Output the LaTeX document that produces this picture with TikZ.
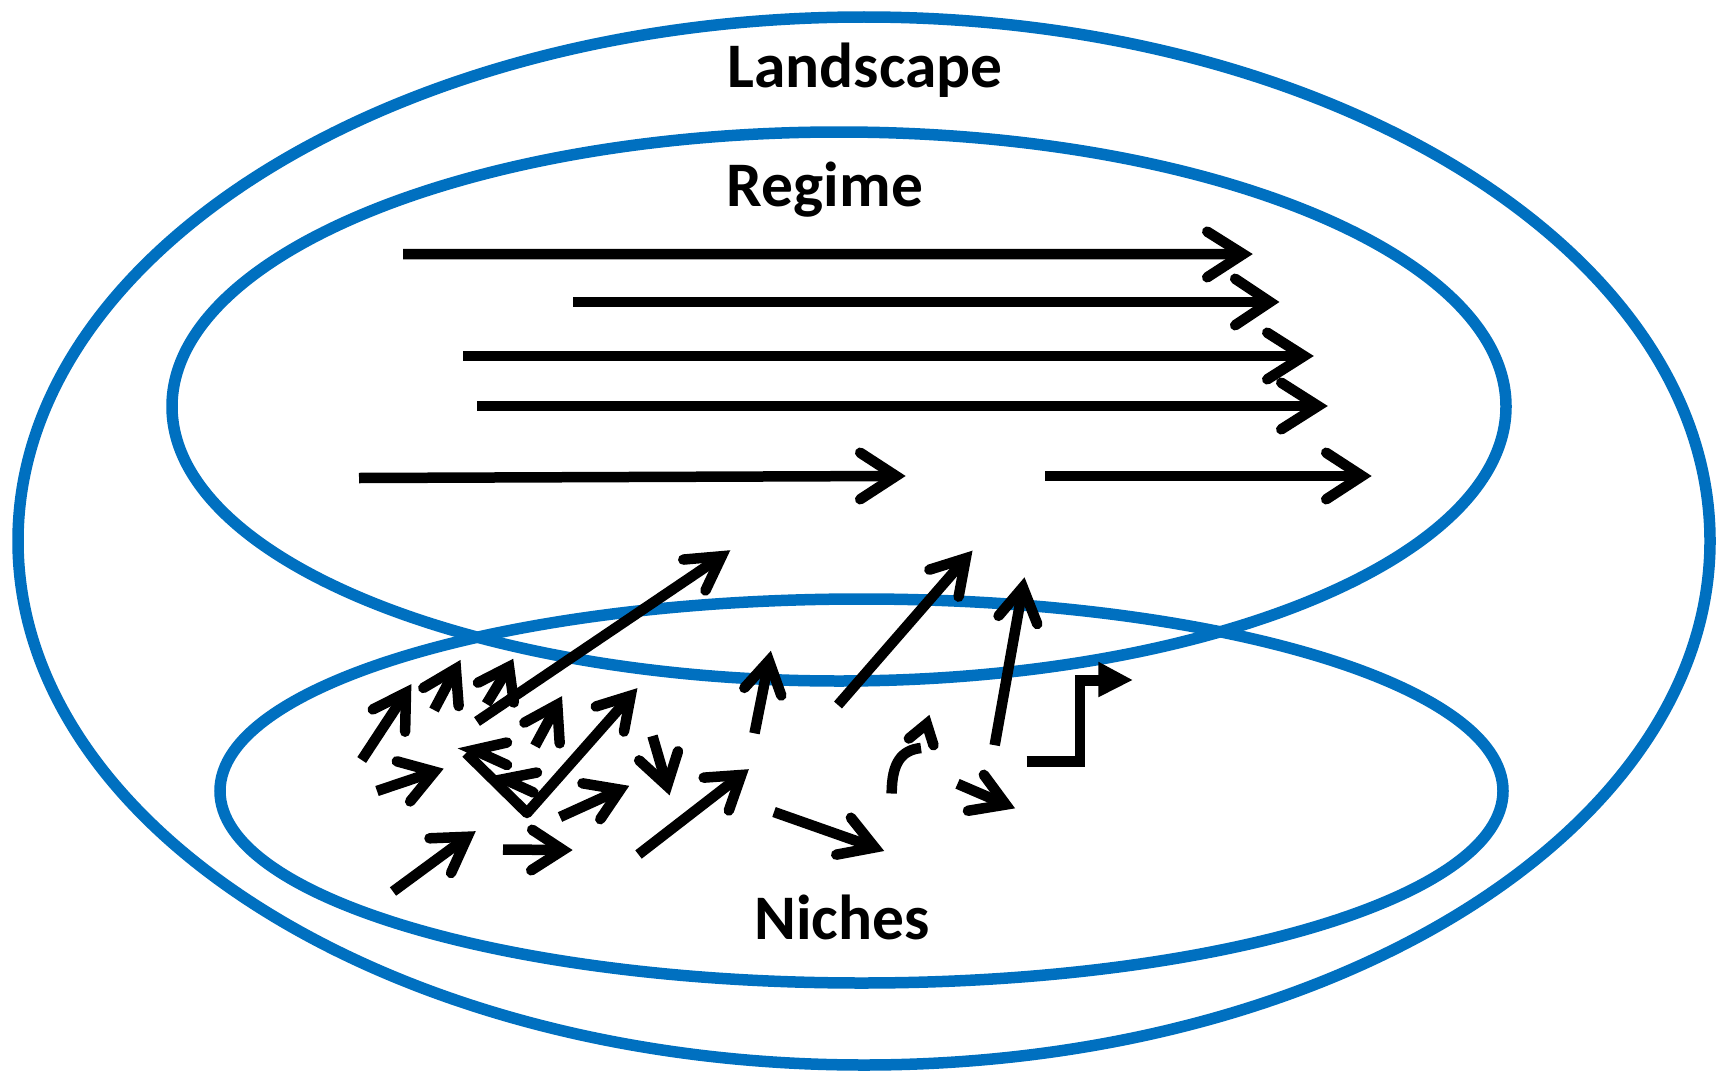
\documentclass[tikz,border=0pt]{standalone}
\usepackage{fontspec}
\setmainfont{Carlito}
\usetikzlibrary{calc}
\definecolor{mlpblue}{RGB}{0,112,192}
\tikzset{
  shaft/.style={draw=black, line width=10.5pt, line cap=butt},
  head/.style={draw=black, line width=10.5pt, line cap=round, line join=miter},
  ell/.style={draw=mlpblue, line width=11.5pt},
  lbl/.style={font=\fontsize{63.5}{72}\selectfont\bfseries, inner sep=0pt, anchor=base}
}
% head: visible tip, two visible arm ends
\newcommand\mlphead[3]{%
  \coordinate (mT) at #1;
  \coordinate (mP) at #2;
  \coordinate (mQ) at #3;
  \coordinate (mM) at ($(mP)!0.5!(mQ)$);
  \coordinate (mJ) at ($(mT)!11pt!(mM)$);
  \draw[head] ($(mP)!5pt!(mJ)$) -- (mJ) -- ($(mQ)!5pt!(mJ)$);
}
\newcommand\mlparrow[4]{%
  \coordinate (mT) at #2;
  \coordinate (mP) at #3;
  \coordinate (mQ) at #4;
  \coordinate (mM) at ($(mP)!0.5!(mQ)$);
  \coordinate (mJ) at ($(mT)!11pt!(mM)$);
  \draw[shaft] #1 -- (mJ);
  \draw[head] ($(mP)!5pt!(mJ)$) -- (mJ) -- ($(mQ)!5pt!(mJ)$);
}
\begin{document}
\begin{tikzpicture}[x=1pt,y=-1pt]
\useasboundingbox (0,0) rectangle (1721,1081);
\fill[white] (0,0) rectangle (1721,1081);

% ellipses
\draw[ell] (864,541) ellipse [x radius=846pt, y radius=524pt];
\draw[ell] (839,406.5) ellipse [x radius=667pt, y radius=274.5pt];
\draw[ell] (861.5,791) ellipse [x radius=641.5pt, y radius=192pt];

% labels
\node[lbl] (land) at (865,88) {Landscape};
\node[lbl] (reg) at (825,206.5) {Regime};
\node[lbl] (nich) at (842,939.6) {Niches};

% regime arrows
\mlparrow{(403,254)}{(1254,254)}{(1203,229)}{(1203,280)}
\mlparrow{(573,302)}{(1281,302)}{(1231,276)}{(1231,328)}
\mlparrow{(463,356)}{(1315,356)}{(1263,330)}{(1263,382)}
\mlparrow{(477,406)}{(1329,406)}{(1277,380)}{(1277,432)}
\mlparrow{(359,478)}{(907,476)}{(856,450)}{(856,502)}
\mlparrow{(1045,476)}{(1373,476)}{(1322,450)}{(1322,502)}

% niche arrows
\mlparrow{(361.7,760)}{(411.7,683.3)}{(368.3,711.7)}{(405,736.7)}
\mlparrow{(434,710)}{(461,659)}{(419,690.5)}{(459,711)}
\mlparrow{(486.5,704)}{(514,657)}{(473.5,685)}{(514.5,707.5)}
\mlparrow{(477,721.5)}{(730.7,550)}{(678.3,560)}{(703.3,595)}
\mlparrow{(535,746)}{(562.5,695)}{(520,725)}{(560,748.3)}
\mlparrow{(527,813)}{(638,687.5)}{(591,708)}{(623,736.5)}
\mlparrow{(652.5,736)}{(670,796.5)}{(635.5,757)}{(679.5,746.5)}
\mlparrow{(560,817)}{(630.5,785.5)}{(577.5,782.5)}{(597.5,823.3)}
\mlparrow{(377,791)}{(445,768.3)}{(392,760)}{(407,805.3)}
\mlparrow{(393,891.5)}{(476.5,830.5)}{(424.5,838.5)}{(449,877.5)}
\mlparrow{(503,849.5)}{(574,850)}{(528,827)}{(527,873)}
\mlparrow{(754.5,733.3)}{(771,650)}{(741,691.6)}{(783,700.2)}
\mlparrow{(838,705)}{(973,550)}{(924.6,571.2)}{(957.7,601.6)}
\mlparrow{(638.5,854.5)}{(750,768.3)}{(698.7,778)}{(727.2,815.2)}
\mlparrow{(774,812)}{(885,851.2)}{(847.8,813.8)}{(831.3,855.6)}
\mlparrow{(994.7,745.2)}{(1024.5,576.5)}{(995.3,619.7)}{(1039.1,628.6)}
\mlparrow{(957.5,783.8)}{(1016,808.6)}{(980.9,770.8)}{(963,811.6)}

% tangle: two left chevrons and the diagonal
\draw[head] (507,742.5) -- (474,750) -- (507,765);
\draw[head] (537,772.5) -- (504,779) -- (533.5,792.5);
\draw[shaft] (466,753) -- (527,813);
\fill (527,813) circle[radius=5.25pt];

% curved arrow
\draw[shaft] (891.7,793.5) .. controls (891.7,762) and (902,750) .. (921,748);
\mlphead{(930,713.3)}{(905,741.7)}{(935,750)}

% elbow arrow
\draw[shaft, line join=miter] (1026.7,761.5) -- (1080,761.5) -- (1080,680.5) -- (1100,680.5);
\fill (1098.3,661.7) -- (1132.3,680) -- (1098.3,697.3) -- cycle;
\end{tikzpicture}
\end{document}
